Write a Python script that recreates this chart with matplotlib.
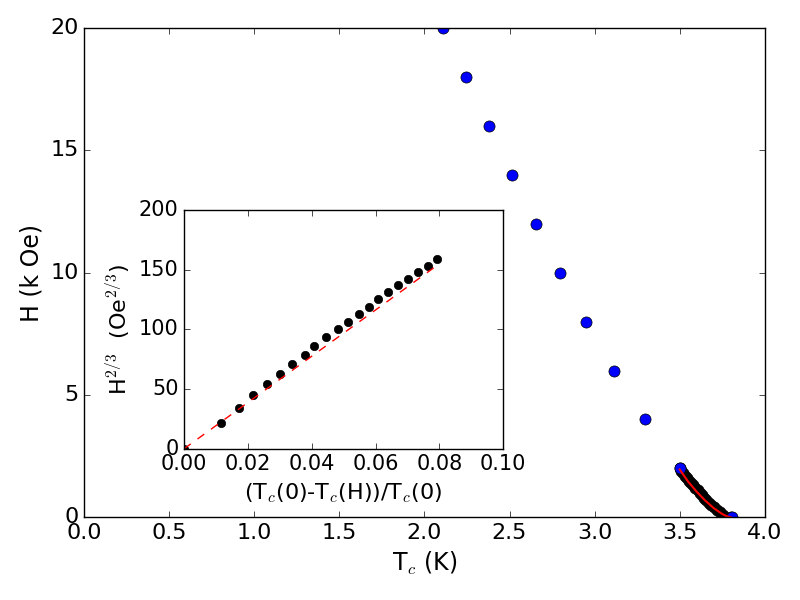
import numpy as np
import matplotlib
matplotlib.use("Agg")
import matplotlib.pyplot as plt

plt.style.use("classic")

# coarse field sweep (blue): H in kOe, Tc in K
H_coarse = [0, 2, 4, 6, 8, 10, 12, 14, 16, 18, 20]
Tc_coarse = [3.808, 3.501, 3.295, 3.115, 2.950, 2.796, 2.655, 2.516, 2.381, 2.245, 2.109]

# fine field sweep (black): H in kOe, Tc in K
H_fine = [0.0, 0.1, 0.2, 0.3, 0.4, 0.5, 0.6, 0.7, 0.8, 0.9, 1.0,
          1.1, 1.2, 1.3, 1.4, 1.5, 1.6, 1.7, 1.8, 1.9, 2.0]
Tc_fine = [3.800, 3.756, 3.734, 3.718, 3.701, 3.686, 3.671, 3.656, 3.645, 3.631, 3.617,
           3.605, 3.592, 3.580, 3.569, 3.557, 3.545, 3.533, 3.522, 3.510, 3.499]
Tc0 = 3.80

# fitted curve (red)
Tc_fit = [3.50, 3.55, 3.60, 3.65, 3.70, 3.75, 3.78, 3.80]
H_fit = [1.95, 1.45, 1.04, 0.68, 0.37, 0.13, 0.03, 0.0]

# inset fit line (red dashed)
x_fitline = [0.0, 0.08]
y_fitline = [0.0, 155.0]

fig = plt.figure(figsize=(8, 6), dpi=100)
ax = fig.add_axes([0.105, 0.138, 0.851, 0.815])

ax.plot(Tc_fine, H_fine, 'ko', markersize=8)
ax.plot(Tc_coarse, H_coarse, 'bo', markersize=8)
ax.plot(Tc_fit, H_fit, 'r-', linewidth=1.5)

ax.set_xlim(0, 4)
ax.set_ylim(0, 20)
ax.set_xticks(np.arange(0, 4.01, 0.5))
ax.set_yticks([0, 5, 10, 15, 20])
ax.tick_params(labelsize=16)
ax.set_xlabel('T$_c$ (K)', fontsize=17)
ax.set_ylabel('H (k Oe)', fontsize=17)

# inset: H^(2/3) vs reduced Tc shift
ins = fig.add_axes([0.23, 0.252, 0.399, 0.398])
x_red = [(Tc0 - t) / Tc0 for t in Tc_fine]
y_pow = [(h * 1000) ** (2.0 / 3.0) for h in H_fine]
ins.plot(x_red, y_pow, 'ko', markersize=6)
ins.plot(x_fitline, y_fitline, 'r--', linewidth=1)
ins.set_xlim(0, 0.1)
ins.set_ylim(0, 200)
ins.set_xticks([0.0, 0.02, 0.04, 0.06, 0.08, 0.10])
ins.set_xticklabels(['0.00', '0.02', '0.04', '0.06', '0.08', '0.10'])
ins.set_yticks([0, 50, 100, 150, 200])
ins.tick_params(labelsize=15)
ins.set_xlabel('(T$_c$(0)-T$_c$(H))/T$_c$(0)', fontsize=16)
ins.set_ylabel('H$^{2/3}$  (Oe$^{2/3}$)', fontsize=16)

fig.savefig('out.png', dpi=100)
